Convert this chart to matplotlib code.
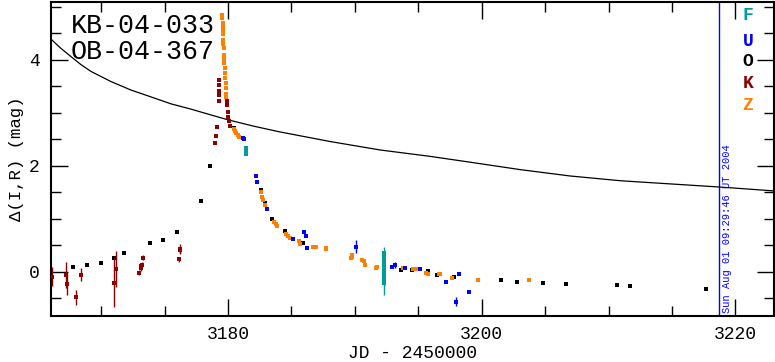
import matplotlib
matplotlib.use("Agg")
import matplotlib.pyplot as plt
from matplotlib.ticker import MultipleLocator

FONT = "Liberation Mono"

# ---- data ----
# model curve
t_curve = [3166.04, 3166.8, 3167.62, 3168.4, 3169.2, 3170.77, 3172.35, 3173.93, 3175.5, 3177.08, 3178.66, 3179.98,
           3182.0, 3184.1, 3188.04, 3191.99, 3195.93, 3199.08, 3203.03, 3206.97, 3210.95, 3214.9, 3218.86, 3222.96]
m_curve = [4.39, 4.22, 4.06, 3.91, 3.78, 3.59, 3.43, 3.30, 3.17, 3.07, 2.96, 2.87,
           2.75, 2.64, 2.46, 2.30, 2.18, 2.07, 1.93, 1.81, 1.72, 1.66, 1.60, 1.53]

# K (dark red)
t_K = [3166.1, 3167.2, 3167.3, 3168.0, 3168.4, 3171.0, 3171.2, 3173.0, 3173.1, 3173.15, 3173.2, 3173.3,
       3176.15, 3176.2, 3176.25, 3178.97, 3179.05, 3179.1, 3179.28, 3179.29, 3179.30, 3179.31, 3179.30,
       3179.90, 3179.92, 3179.98, 3180.0, 3180.08, 3180.12]
m_K = [-0.09, -0.06, -0.23, -0.48, -0.05, -0.20, 0.05, -0.01, 0.07, 0.11, 0.14, 0.27,
       0.24, 0.41, 0.43, 2.43, 2.57, 2.74, 3.62, 3.52, 3.42, 3.33, 3.22,
       3.22, 3.15, 3.02, 2.92, 2.84, 2.75]
e_K = [0.18, 0.25, 0.20, 0.14, 0.12, 0.46, 0.34, 0.05, 0.05, 0.05, 0.05, 0.05,
       0.05, 0.06, 0.10, 0.02, 0.02, 0.02, 0.02, 0.02, 0.02, 0.02, 0.02,
       0.02, 0.02, 0.02, 0.02, 0.02, 0.02]

# O (black)
t_O = [3167.8, 3168.9, 3170.0, 3171.0, 3171.8, 3173.85, 3174.9, 3176.0, 3177.9, 3178.6, 3180.5,
       3182.6, 3182.9, 3183.5, 3184.5, 3185.9, 3193.65, 3194.5, 3195.8, 3196.5, 3197.8,
       3201.55, 3202.75, 3204.8, 3206.65, 3210.7, 3211.7, 3217.7]
m_O = [0.09, 0.13, 0.16, 0.26, 0.35, 0.54, 0.61, 0.76, 1.34, 1.99, 2.72,
       1.54, 1.30, 0.99, 0.77, 0.54, 0.04, 0.03, 0.02, -0.06, -0.09,
       -0.16, -0.18, -0.21, -0.22, -0.25, -0.27, -0.32]

# Z (orange)
t_Z = [3179.55, 3179.56, 3179.57, 3179.58, 3179.59, 3179.60, 3179.62, 3179.63, 3179.65, 3179.68,
       3179.70, 3179.72, 3179.74, 3179.76, 3179.78, 3179.80, 3179.82, 3179.85, 3179.87,
       3180.45, 3180.55, 3180.65, 3180.75, 3180.85,
       3182.6, 3182.7, 3182.75, 3182.9, 3183.65, 3183.75, 3183.85, 3184.6, 3184.75, 3184.9,
       3185.6, 3185.7, 3186.7, 3186.8, 3186.9, 3187.7, 3187.75, 3189.7, 3189.75, 3189.8,
       3190.6, 3190.7, 3190.8, 3191.65, 3191.75, 3193.8, 3194.6, 3194.8, 3195.6, 3195.8,
       3196.6, 3196.75, 3197.65, 3199.7, 3203.75]
m_Z = [4.85, 4.78, 4.70, 4.62, 4.55, 4.48, 4.38, 4.30, 4.22, 4.10,
       4.02, 3.94, 3.85, 3.76, 3.66, 3.56, 3.46, 3.36, 3.30,
       2.70, 2.66, 2.62, 2.58, 2.55,
       1.50, 1.42, 1.36, 1.26, 0.95, 0.90, 0.86, 0.71, 0.68, 0.65,
       0.58, 0.53, 0.47, 0.48, 0.47, 0.46, 0.43, 0.26, 0.32, 0.29,
       0.23, 0.20, 0.13, 0.08, 0.10, 0.08, 0.06, 0.06, -0.01, -0.04,
       -0.04, -0.04, -0.11, -0.15, -0.15]

# U (blue)
t_U = [3181.15, 3181.25, 3182.2, 3182.3, 3183.1, 3185.15, 3186.0, 3186.15, 3186.2, 3190.1,
       3192.9, 3193.2, 3193.95, 3195.15, 3197.15, 3198.2, 3199.0, 3198.0]
m_U = [2.53, 2.50, 1.81, 1.69, 1.18, 0.62, 0.76, 0.68, 0.45, 0.48,
       0.10, 0.13, 0.08, 0.06, -0.18, -0.04, -0.38, -0.56]
e_U = [0.02, 0.02, 0.02, 0.02, 0.02, 0.02, 0.02, 0.02, 0.02, 0.13,
       0.02, 0.05, 0.02, 0.02, 0.02, 0.02, 0.02, 0.09]

# F (teal)
t_F = [3181.4, 3181.4, 3181.42] + [3192.33] * 12
m_F = [2.33, 2.27, 2.22, 0.36, 0.31, 0.26, 0.21, 0.16, 0.11, 0.06, 0.01, -0.04, -0.09, -0.15, -0.21]
e_F = [0.02, 0.02, 0.02, 0.12, 0.06, 0.08, 0.05, 0.06, 0.05, 0.05, 0.06, 0.08, 0.06, 0.12, 0.22]

series = [("F", t_F, m_F, e_F, "#009c9c"),
          ("U", t_U, m_U, e_U, "#0000ff"),
          ("O", t_O, m_O, None, "#000000"),
          ("K", t_K, m_K, e_K, "#8b0000"),
          ("Z", t_Z, m_Z, None, "#ff8000")]

title_lines = ["KB-04-033", "OB-04-367"]
date_text = "Sun Aug 01 09:29:46 UT 2004"
date_jd = 3218.74
x_label = "JD - 2450000"
y_label = "\u0394(I,R) (mag)"

# ---- figure ----
fig = plt.figure(figsize=(7.75, 3.62), dpi=100)
ax = fig.add_axes([51 / 775, 1 - 316 / 362, (774 - 51) / 775, (316 - 2) / 362])

ax.plot(t_curve, m_curve, color="black", lw=0.9, zorder=2)

for name, t, m, e, c in series:
    if e is not None:
        ax.errorbar(t, m, yerr=e, fmt="s", color=c, ms=2.8, mew=0, elinewidth=1.0,
                    capsize=1.5, capthick=1.0, zorder=3)
    else:
        ax.plot(t, m, "s", color=c, ms=2.8, mew=0, zorder=3)

ax.axvline(date_jd, color="#0000ff", lw=1.0, zorder=1)
ax.text(date_jd + 0.2, -0.78, date_text, rotation=90, color="#0000ff",
        fontsize=7.5, family=FONT, ha="left", va="bottom")

ax.text(0.027, 0.965, "\n".join(title_lines), transform=ax.transAxes, fontsize=19.2,
        family=FONT, ha="left", va="top", linespacing=1.0)

legend_y = [15, 42, 62, 83, 106]
for (name, t, m, e, c), py in zip(series, legend_y):
    fig.text(748 / 775, 1 - py / 362, name, color=c, fontsize=13, family=FONT,
             fontweight="bold", ha="center", va="center")

ax.set_xlim(3166.04, 3223.05)
ax.set_ylim(-0.83, 5.09)
ax.xaxis.set_major_locator(MultipleLocator(20))
ax.xaxis.set_minor_locator(MultipleLocator(5))
ax.yaxis.set_major_locator(MultipleLocator(2))
ax.yaxis.set_minor_locator(MultipleLocator(0.5))
ax.tick_params(which="both", direction="in", top=True, right=True, width=1.0, color="black")
ax.tick_params(which="major", length=12, labelsize=13, pad=8)
ax.tick_params(axis="x", which="major", pad=7)
ax.tick_params(which="minor", length=7)
for lab in ax.get_xticklabels() + ax.get_yticklabels():
    lab.set_family(FONT)
for sp in ax.spines.values():
    sp.set_linewidth(1.5)

fig.text(412.5 / 775, 1 - 354 / 362, x_label, family=FONT, fontsize=13,
         ha="center", va="center")
ax.set_ylabel(y_label, family=FONT, fontsize=12.5, labelpad=4)

fig.savefig("out.png", dpi=100)
